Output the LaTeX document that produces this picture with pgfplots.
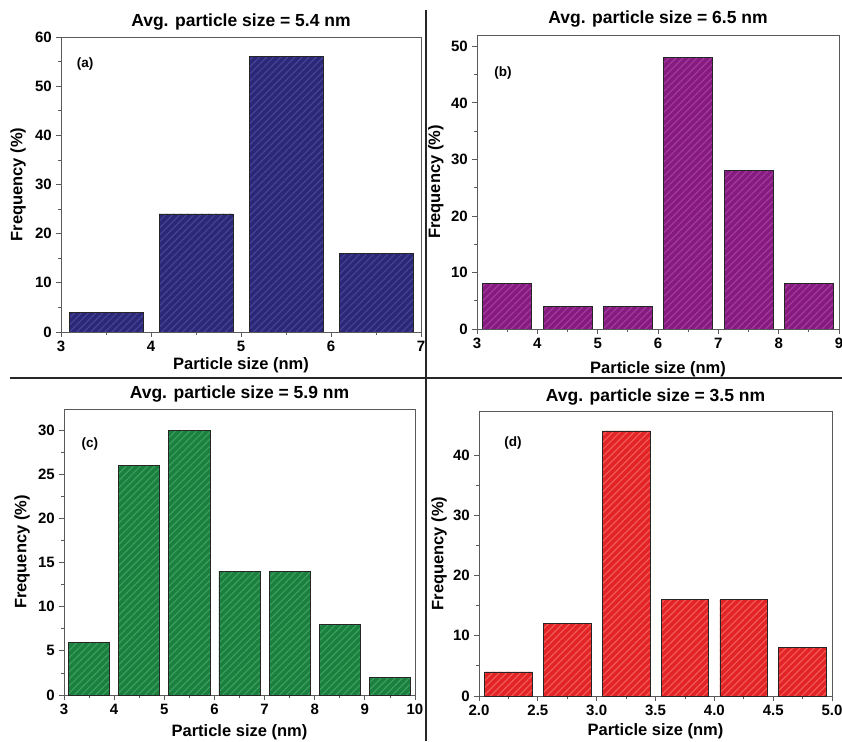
\documentclass[border=0pt]{standalone}
\usepackage{pgfplots}
\pgfplotsset{compat=1.18}
\usepackage{fontspec}
\setmainfont{Liberation Sans}
\usetikzlibrary{patterns.meta}

\definecolor{navyF}{RGB}{44,40,120}
\definecolor{navyL}{RGB}{70,66,150}
\definecolor{purpF}{RGB}{134,26,128}
\definecolor{purpL}{RGB}{160,60,155}
\definecolor{greenF}{RGB}{27,127,63}
\definecolor{greenL}{RGB}{60,158,92}
\definecolor{redF}{RGB}{226,36,38}
\definecolor{redL}{RGB}{242,88,88}
\definecolor{axgray}{RGB}{90,90,90}

\pgfplotsset{
  hist/.style={
    scale only axis,
    anchor=south west,
    ymin=0,
    tick pos=left,
    tick align=outside,
    major tick length=5pt,
    minor tick length=3pt,
    minor x tick num=1,
    minor y tick num=1,
    axis line style={axgray, line width=0.9pt},
    every tick/.style={axgray, line width=0.8pt},
    tick label style={font=\fontsize{15}{15}\selectfont\bfseries},
    /pgf/number format/assume math mode=true,
    label style={font=\fontsize{16.5}{16.5}\selectfont\bfseries},
    title style={font=\fontsize{17.5}{17.5}\selectfont\bfseries, anchor=base},
    xticklabel style={inner sep=0pt, anchor=north, yshift=-4pt},
    yticklabel style={inner sep=0pt, anchor=east, xshift=-4pt},
    xlabel={Particle size (nm)},
    ylabel={Frequency (\%)},
    xlabel style={anchor=base},
    ylabel style={anchor=base, rotate=0},
    ybar,
  },
  hbar/.style n args={2}{
    fill=#1, draw=black!85, line width=0.7pt,
    postaction={pattern={Lines[angle=45, distance=5pt, line width=1.2pt]}, pattern color=#2},
  },
}

\begin{document}
\begin{tikzpicture}
\useasboundingbox (0,0) rectangle (842pt,741pt);

% (a)
\begin{axis}[hist,
  at={(61pt,409pt)}, width=360pt, height=295pt,
  xmin=3, xmax=7, ymax=60, xtick={3,4,5,6,7}, ytick={0,10,...,60},
  bar width=0.82,
  title={Avg. particle size = 5.4 nm},
  title style={at={(0.5,1.0136)}},
  xlabel style={at={(0.5,-0.1288)}},
  ylabel style={at={(-0.107,0.5)}},
]
\addplot[hbar={navyF}{navyL}] coordinates {(3.5,4) (4.5,24) (5.5,56) (6.5,16)};
\node[font=\fontsize{13.5}{13.5}\selectfont\bfseries] at (rel axis cs:0.067,0.907) {(a)};
\end{axis}

% (b)
\begin{axis}[hist,
  at={(477pt,412pt)}, width=362pt, height=294pt,
  xmin=3, xmax=9, ymax=52, xtick={3,4,...,9}, ytick={0,10,...,50},
  bar width=0.81,
  title={Avg. particle size = 6.5 nm},
  title style={at={(0.5,1.017)}},
  xlabel style={at={(0.5,-0.1497)}},
  ylabel style={at={(-0.102,0.5)}},
]
\addplot[hbar={purpF}{purpL}] coordinates {(3.5,8) (4.5,4) (5.5,4) (6.5,48) (7.5,28) (8.5,8)};
\node[font=\fontsize{13.5}{13.5}\selectfont\bfseries] at (rel axis cs:0.072,0.871) {(b)};
\end{axis}

% (c)
\begin{axis}[hist,
  at={(64pt,46pt)}, width=351pt, height=286pt,
  xmin=3, xmax=10, ymax=32.4, xtick={3,4,...,10}, ytick={0,5,...,30},
  bar width=0.82,
  title={Avg. particle size = 5.9 nm},
  title style={at={(0.5,1.014)}},
  xlabel style={at={(0.5,-0.1435)}},
  ylabel style={at={(-0.107,0.5)}},
]
\addplot[hbar={greenF}{greenL}] coordinates {(3.5,6) (4.5,26) (5.5,30) (6.5,14) (7.5,14) (8.5,8) (9.5,2)};
\node[font=\fontsize{13.5}{13.5}\selectfont\bfseries] at (rel axis cs:0.074,0.878) {(c)};
\end{axis}

% (d)
\begin{axis}[hist,
  at={(479pt,45pt)}, width=353pt, height=285pt,
  xmin=2, xmax=5, ymax=47.3, xtick={2,2.5,...,5}, ytick={0,10,...,40},
  xticklabel style={/pgf/number format/.cd, fixed, fixed zerofill, precision=1},
  bar width=0.405,
  title={Avg. particle size = 3.5 nm},
  title style={at={(0.5,1.014)}},
  xlabel style={at={(0.5,-0.137)}},
  ylabel style={at={(-0.1006,0.5)}},
]
\addplot[hbar={redF}{redL}] coordinates {(2.25,4) (2.75,12) (3.25,44) (3.75,16) (4.25,16) (4.75,8)};
\node[font=\fontsize{13.5}{13.5}\selectfont\bfseries] at (rel axis cs:0.096,0.888) {(d)};
\end{axis}

% dividers
\draw[line width=1.8pt, black!85] (426pt,0pt) -- (426pt,731pt);
\draw[line width=1.8pt, black!85] (10pt,363pt) -- (842pt,363pt);
\end{tikzpicture}
\end{document}
